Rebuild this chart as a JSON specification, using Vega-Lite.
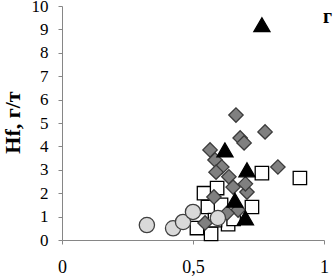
{
  "$schema": "https://vega.github.io/schema/vega-lite/v6.json",
  "autosize": "none",
  "width": 262,
  "height": 234,
  "padding": {"left": 62, "top": 6, "right": 9, "bottom": 38},
  "background": "white",
  "config": {
    "view": {"stroke": null},
    "axis": {
      "grid": false,
      "domainColor": "#868686",
      "tickColor": "#868686",
      "tickSize": 4,
      "labelColor": "#000000",
      "labelFont": "Liberation Serif",
      "labelFontSize": 18,
      "labelFlush": false,
      "labelOverlap": false,
      "titleFont": "Liberation Serif",
      "titleColor": "#000000"
    }
  },
  "encoding": {
    "x": {
      "field": "x", "type": "quantitative",
      "scale": {"domain": [0, 1], "nice": false},
      "axis": {
        "values": [0, 0.5, 1],
        "labelPadding": 14,
        "labelOverlap": false,
        "labelExpr": "replace(toString(datum.value), '.', ',')",
        "title": null
      }
    },
    "y": {
      "field": "y", "type": "quantitative",
      "scale": {"domain": [0, 10], "nice": false},
      "axis": {
        "values": [0, 1, 2, 3, 4, 5, 6, 7, 8, 9, 10],
        "tickCount": 11,
        "labelPadding": 10,
        "labelOverlap": false,
        "labelFontSize": 17,
        "title": "Hf, г/т",
        "titleFontSize": 22,
        "titleFontWeight": "bold",
        "titleX": -38,
        "titleY": 116
      }
    }
  },
  "layer": [
    {
      "data": {
        "values": [
          {"s": "sq", "x": 0.908, "y": 2.65},
          {"s": "sq", "x": 0.763, "y": 2.86},
          {"s": "sq", "x": 0.725, "y": 1.41},
          {"s": "sq", "x": 0.542, "y": 2.0},
          {"s": "sq", "x": 0.592, "y": 2.22},
          {"s": "sq", "x": 0.557, "y": 1.41},
          {"s": "sq", "x": 0.607, "y": 1.5},
          {"s": "sq", "x": 0.515, "y": 0.51},
          {"s": "sq", "x": 0.569, "y": 0.26},
          {"s": "sq", "x": 0.634, "y": 0.68},
          {"s": "sq", "x": 0.584, "y": 0.85},
          {"s": "sq", "x": 0.655, "y": 0.9},
          {"s": "di", "x": 0.664, "y": 5.34},
          {"s": "di", "x": 0.775, "y": 4.62},
          {"s": "di", "x": 0.68, "y": 4.36},
          {"s": "di", "x": 0.695, "y": 4.15},
          {"s": "di", "x": 0.565, "y": 3.85},
          {"s": "di", "x": 0.824, "y": 3.12},
          {"s": "di", "x": 0.584, "y": 3.42},
          {"s": "di", "x": 0.61, "y": 3.12},
          {"s": "di", "x": 0.588, "y": 2.9},
          {"s": "di", "x": 0.637, "y": 2.7},
          {"s": "di", "x": 0.653, "y": 2.26},
          {"s": "di", "x": 0.706, "y": 2.05},
          {"s": "di", "x": 0.58, "y": 1.84},
          {"s": "di", "x": 0.672, "y": 1.28},
          {"s": "di", "x": 0.546, "y": 0.73},
          {"s": "di", "x": 0.63, "y": 1.15},
          {"s": "di", "x": 0.7, "y": 2.4},
          {"s": "ci", "x": 0.324, "y": 0.64},
          {"s": "ci", "x": 0.424, "y": 0.5},
          {"s": "ci", "x": 0.462, "y": 0.77},
          {"s": "ci", "x": 0.5, "y": 1.2},
          {"s": "ci", "x": 0.595, "y": 0.94},
          {"s": "tr", "x": 0.763, "y": 9.2},
          {"s": "tr", "x": 0.622, "y": 3.85},
          {"s": "tr", "x": 0.706, "y": 3.0},
          {"s": "tr", "x": 0.66, "y": 1.7},
          {"s": "tr", "x": 0.7, "y": 0.95}
        ]
      },
      "mark": {"type": "point", "filled": true, "opacity": 1, "strokeWidth": 1.3},
      "encoding": {
        "shape": {
          "field": "s", "type": "nominal",
          "scale": {"domain": ["sq", "di", "ci", "tr"], "range": ["square", "diamond", "circle", "triangle-up"]},
          "legend": null
        },
        "fill": {
          "field": "s", "type": "nominal",
          "scale": {"domain": ["sq", "di", "ci", "tr"], "range": ["#ffffff", "#808080", "#d9d9d9", "#000000"]},
          "legend": null
        },
        "stroke": {
          "field": "s", "type": "nominal",
          "scale": {"domain": ["sq", "di", "ci", "tr"], "range": ["#000000", "#3a3a3a", "#404040", "#000000"]},
          "legend": null
        },
        "size": {
          "field": "s", "type": "nominal",
          "scale": {"domain": ["sq", "di", "ci", "tr"], "range": [180, 260, 230, 290]},
          "legend": null
        }
      }
    },
    {
      "data": {"values": [{"x": 0.996, "y": 9.55, "t": "г"}]},
      "mark": {"type": "text", "align": "left", "baseline": "middle", "font": "Liberation Serif", "fontSize": 20, "fontWeight": "bold", "clip": false, "color": "#000000"},
      "encoding": {
        "text": {"field": "t"}
      }
    }
  ]
}
